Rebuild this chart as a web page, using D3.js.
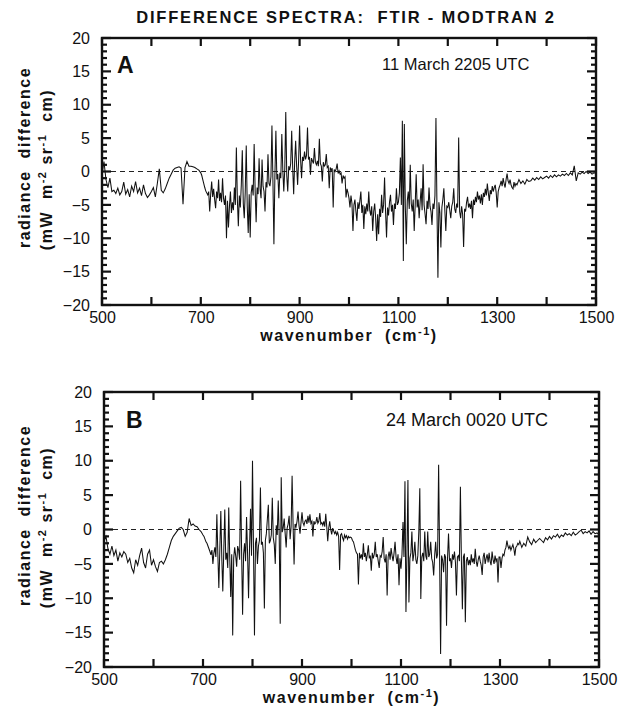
<!DOCTYPE html>
<html>
<head>
<meta charset="utf-8">
<script src="https://cdn.jsdelivr.net/npm/d3@7"></script>
<style>
body { margin: 0; background: #fff; }
text { font-family: "Liberation Sans", Arial, Helvetica, sans-serif; fill: #111; }
</style>
</head>
<body>
<div id="chart"></div>
<script>
// sampling grid of the spectra (cm-1): 4 cm-1 in the quiet parts, 2 cm-1 in the noisy band
var wavenumbers = [].concat(d3.range(500, 700, 4), d3.range(700, 1340, 2), d3.range(1340, 1501, 4));

// panel A: 11 March 2205 UTC, radiance difference
var spectrumA = [].concat(
  // 500-696 (4 cm-1)
  [-0.5, 1.5, -1.2, -2.4, -1.0, -3.0, -2.8, -3.3, -2.5, -3.5, -3.0, -1.6, -3.4, -2.7, -3.8, -2.2, -3.0, -1.5, -3.2, -2.5, -3.6, -2.0, -3.3, -3.9, -3.5],
  [-3.0, -2.4, -3.8, -1.8, 0.4, -2.8, -3.2, -2.6, -1.8, -1.0, -0.4, 0.2, 0.5, 0.6, 0.7, 0.5, -4.9, 0.6, 1.5, 0.8, 0.8, 0.7, 0.6, 0.4, 0.2],
  // 700-798 (2 cm-1)
  [-0.2, -0.6, -1.2, -1.8, -2.4, -2.9, -3.2, -3.5, -3.0, -6.0, -3.4, -1.5, -3.8, -2.6, -4.2, -5.5, -3.0, -4.0, -1.2, -4.4,
   -3.2, -4.6, -1.0, -4.0, -5.0, -3.6, -10.0, -4.4, -8.4, -5.2, -3.0, -6.2, -4.6, -5.8, -2.4, -5.0, 3.6, -4.2, -8.2, -3.6,
   -5.4, -2.0, 3.2, -4.8, -7.0, -3.0, 3.9, -5.2, -9.2, -3.4],
  // 800-898
  [-9.9, -3.2, -2.0, -3.6, 4.1, -2.8, -7.6, -2.4, -3.4, 2.0, -2.6, -4.0, 1.8, -2.2, -3.0, -6.0, -1.6, -2.4, 2.6, -1.8,
   -2.2, -0.8, 6.9, -1.4, -10.9, -0.6, 6.1, -1.2, -0.4, -4.0, -0.2, -1.0, 5.6, 0.2, -3.0, 0.4, 8.9, -0.6, -3.0, 0.8,
   0.2, 1.2, 6.1, 0.6, -3.4, 1.4, 4.6, 0.8, -2.0, 1.6],
  // 900-998
  [6.9, 1.8, -1.0, 2.2, 1.6, 3.0, 1.8, 2.4, 6.6, 1.8, 2.2, -0.5, 2.0, 1.6, 1.2, 3.5, 1.4, 1.0, 1.6, 0.8,
   4.9, 1.2, 0.8, -1.5, 1.4, 0.8, 1.0, 2.6, 0.6, 0.8, -2.5, 0.6, 0.2, 0.5, -5.4, 0.3, 0.0, 0.4, 1.2, -0.3,
   0.1, -0.4, -0.2, -1.8, -0.6, -1.0, -0.8, -3.9, -2.6, -3.2],
  // 1000-1098
  [-4.0, -5.4, -3.6, -4.8, -8.9, -5.0, -4.2, -6.0, -7.4, -4.6, -5.6, -4.4, -3.0, -6.2, -5.0, -8.6, -5.2, -6.4, -4.8, -6.0,
   -3.0, -5.8, -6.6, -5.2, -8.9, -6.0, -4.8, -7.0, -10.4, -6.4, -9.4, -5.6, -6.8, -3.5, -6.2, -5.0, -0.9, -6.0, -9.9, -5.4,
   -6.6, -4.6, -3.5, -6.0, -5.0, -8.0, -4.8, -5.6, -2.5, -5.0],
  // 1100-1198
  [-4.6, -3.2, 2.1, -5.0, 7.6, -13.4, 7.1, -5.2, -10.9, -4.4, -3.0, -5.6, 1.0, -4.8, -6.0, -4.2, -8.9, -5.0, -0.4, -5.4,
   -4.2, -7.0, -4.6, -2.5, -5.8, 1.1, -5.0, -6.4, -7.9, -4.4, -5.6, -2.4, -5.2, -6.0, -8.0, -4.8, -5.6, -3.6, 8.0, -5.0,
   -15.9, -4.6, -6.2, -11.4, -5.4, -4.2, -2.5, -5.8, -8.9, -5.2],
  // 1200-1298
  [-5.4, -4.6, -5.8, -7.0, -5.2, -4.6, -2.5, -5.6, -6.2, -4.8, -5.4, 5.1, -6.0, -7.0, -5.2, -6.4, -11.3, -5.6, -6.0, -4.6,
   -3.8, -5.4, -4.8, -5.6, -4.4, -7.0, -4.2, -5.0, -3.8, -4.6, -3.0, -4.2, -3.6, -4.8, -3.4, -5.0, -3.2, -3.8, -2.6, -3.6,
   -1.8, -3.2, -4.4, -2.8, -3.4, -2.2, -3.0, -2.4, -2.0, -3.2],
  // 1300-1338
  [-5.4, -3.0, -2.4, -2.0, -1.4, -2.2, -1.0, -1.8, -2.4, -1.2, -0.3, -1.4, -1.8, -1.2, -2.0, -2.4, -2.6, -1.6, -2.2, -1.8],
  // 1340-1500 (4 cm-1)
  [-2.0, -1.2, -1.8, -1.4, -1.9, -1.2, -1.5, -1.4, -1.0, -1.3, -0.9, -1.2, -0.8, -1.1, -0.9],
  [-0.7, -1.0, -0.6, -0.9, -0.5, -0.8, -0.5, -0.7, -0.4, -0.6, -0.3, -0.6, -0.2, -0.5, 0.85, -1.4, -0.2, -0.4, -0.1, -0.3, 0.0, -0.3, -0.1, -0.4, -0.2],
  [-0.3]
);

// panel B: 24 March 0020 UTC
var spectrumB = [].concat(
  // 500-696 (4 cm-1)
  [-1.7, -1.0, -2.8, -3.6, -2.4, -3.8, -3.0, -4.6, -3.4, -4.0, -3.2, -3.6, -4.8, -4.2, -5.6, -6.3, -4.4, -5.2, -3.8, -2.7, -4.8, -5.6, -3.6, -3.0, -5.2],
  [-4.4, -5.4, -6.1, -4.8, -4.6, -5.0, -4.4, -3.6, -2.6, -1.6, -1.0, -0.6, -0.2, 0.2, 0.3, 0.0, -1.0, -0.4, 1.6, 0.6, 0.8, 0.5, 0.4, 0.0, -0.3],
  // 700-798 (2 cm-1)
  [-0.8, -1.0, -1.4, -1.8, -2.0, -2.4, -2.8, -3.2, -3.7, -3.0, -5.0, -3.4, -2.6, -4.0, 2.2, -3.6, -8.5, -2.8, 2.7, -4.2,
   -9.0, -3.0, 2.9, -4.4, -3.4, -5.6, 3.2, -4.0, -9.8, -3.6, -15.4, -4.2, -2.6, -3.8, -5.4, -2.4, -3.0, -4.4, 7.1, -3.2,
   -12.4, -3.6, -2.0, -4.6, 1.8, -3.4, -10.0, -2.6, 3.0, -3.8],
  // 800-898
  [10.0, -2.8, -15.4, -2.0, -1.2, -5.0, -2.4, -1.6, 6.1, -2.2, -1.8, -3.4, -11.5, -1.6, -0.6, 1.5, 3.6, -2.0, -1.6, -0.8,
   4.6, -1.2, -2.2, -5.0, 0.6, -0.8, 4.2, -1.0, -13.7, 7.6, -0.4, 0.2, 1.6, -0.6, -2.6, 0.2, 0.8, 2.0, -1.4, 0.4,
   7.8, 0.6, -5.1, 0.8, 0.4, 1.2, 2.6, 0.6, -0.6, 1.0],
  // 900-998
  [2.5, 1.0, 0.6, 1.2, 1.4, 0.8, 2.0, 1.0, 2.2, 0.9, 1.2, -1.0, 1.2, 0.8, 1.0, 1.8, 0.9, 1.2, 2.4, 0.8,
   1.0, 0.6, 1.2, 0.4, 2.3, 0.4, -1.7, 0.2, 1.2, 0.0, -0.7, 0.2, -0.2, -0.6, -0.3, -0.8, -0.4, -1.0, -5.9, -0.8,
   -0.6, -1.2, -1.6, -0.8, -1.2, -0.9, -1.4, -1.0, -1.2, -1.1],
  // 1000-1098
  [-1.2, -1.6, -1.8, -2.4, -3.0, -3.4, -3.6, -8.0, -3.4, -4.2, -3.6, -4.4, -2.0, -4.0, -3.4, -4.6, -3.6, -2.3, -4.2, -3.8,
   -6.0, -3.4, -4.2, -3.6, -1.8, -4.0, -3.6, -4.6, -5.6, -3.8, -4.0, -3.2, -1.1, -4.2, -4.8, -3.6, -9.6, -4.0, -3.2, -4.4,
   -2.7, -3.8, -4.6, -3.4, -1.8, -4.0, -5.0, -3.6, -8.1, -4.2],
  // 1100-1198
  [-5.7, -3.6, 1.1, -4.0, 7.0, -12.0, -3.8, 7.2, -10.6, -4.2, -3.4, -0.3, -4.6, -3.6, -1.8, -4.4, -5.0, -3.8, -0.3, 6.0,
   -10.1, -4.0, -3.4, -4.6, -0.3, -3.8, -4.4, -0.3, -4.0, -3.6, -1.8, -4.2, -4.8, -6.7, -3.8, -1.8, -4.2, -3.6, 9.4, -4.0,
   -18.1, -3.8, -4.4, -6.2, -3.6, -4.0, -14.0, -4.2, -0.6, -4.6],
  // 1200-1298
  [-4.2, -5.6, -3.6, -4.4, -3.2, -4.8, -9.6, -4.0, -3.8, -4.6, 6.2, -4.4, -11.6, -4.0, -3.5, -13.5, -4.6, -4.0, -5.2, -4.4,
   -5.2, -3.6, -4.8, -4.2, -5.0, -2.8, -4.6, -5.4, -4.4, -3.8, -4.6, -5.2, -6.6, -4.0, -3.4, -5.0, -4.2, -3.6, -4.8, -3.4,
   -4.6, -5.2, -3.2, -4.4, -5.0, -3.8, -4.6, -4.2, -7.7, -4.0],
  // 1300-1338
  [-4.0, -5.6, -4.2, -3.6, -3.8, -3.0, -2.6, -1.6, -2.4, -2.8, -2.4, -3.0, -2.6, -2.2, -2.8, -3.8, -2.6, -2.4, -2.0, -2.2],
  // 1340-1500 (4 cm-1)
  [-1.7, -2.6, -2.0, -2.4, -1.1, -1.8, -2.2, -1.4, -1.9, -1.6, -1.3, -1.6, -1.9, -1.2, -1.5],
  [-1.0, -1.4, -0.9, -1.1, -0.7, -1.2, -0.8, -1.0, -0.5, -0.8, -0.6, -0.9, -0.4, -0.8, -0.6, -0.3, -0.1, -0.6, -0.3, -0.5, -0.2, -0.7, -0.3, -0.6, -0.5],
  [-0.8]
);

var xTicks = [500, 700, 900, 1100, 1300, 1500];
var yTicks = [20, 15, 10, 5, 0, -5, -10, -15, -20];
var panelLetters = ["A", "B"];
var panelDates = ["11 March 2205 UTC", "24 March 0020 UTC"];

var svg = d3.select('#chart')
    .append('svg')
    .attr('width', 621)
    .attr('height', 706);

// title
svg.append('text')
    .attr('x', 346)
    .attr('y', 23)
    .attr('text-anchor', 'middle')
    .style('font-size', '16.5px')
    .style('font-weight', 'bold')
    .style('letter-spacing', '1.8px')
    .style('white-space', 'pre')
    .text('DIFFERENCE SPECTRA:  FTIR - MODTRAN 2');

var panels = [
    {values: spectrumA, left: 102, right: 596, top: 38, bottom: 305,
     letterX: 117, letterY: 73, dateX: 382, dateY: 70, dateSize: 16.5},
    {values: spectrumB, left: 104, right: 599, top: 392, bottom: 667,
     letterX: 126, letterY: 428, dateX: 386, dateY: 426, dateSize: 18}
];

panels.forEach(function(p, k) {
    var g = svg.append('g');
    var x = d3.scaleLinear().domain([500, 1500]).range([p.left, p.right]);
    var y = d3.scaleLinear().domain([-20, 20]).range([p.bottom, p.top]);

    // dashed zero line
    g.append('line')
        .attr('x1', x(500)).attr('x2', x(1500))
        .attr('y1', y(0)).attr('y2', y(0))
        .attr('stroke', '#222')
        .attr('stroke-width', 1)
        .attr('stroke-dasharray', '5,4');

    // the spectrum
    var line = d3.line()
        .x(function(d, i) { return x(wavenumbers[i]); })
        .y(function(d) { return y(d); });

    g.append('path')
        .datum(p.values)
        .attr('d', line)
        .attr('fill', 'none')
        .attr('stroke', '#111')
        .attr('stroke-width', 1.05);

    // tick labels through d3 axes
    g.append('g')
        .attr('class', 'axis')
        .attr('transform', 'translate(0,' + p.bottom + ')')
        .call(d3.axisBottom(x).tickValues(xTicks).tickSize(0).tickPadding(7).tickFormat(d3.format('d')));
    g.append('g')
        .attr('class', 'axis')
        .attr('transform', 'translate(' + p.left + ',0)')
        .call(d3.axisLeft(y).tickValues(yTicks).tickSize(0).tickPadding(12).tickFormat(d3.format('d')));

    g.selectAll('.axis .domain').remove();
    g.selectAll('.axis text')
        .style('font-size', '16px')
        .style('font-family', '"Liberation Sans", Arial, sans-serif')
        .attr('fill', '#111');

    // inward tick marks: x every 100 on top and bottom, y every 1 (longer every 5) on both sides
    var marks = [];
    d3.range(500, 1501, 100).forEach(function(v) {
        marks.push({x1: x(v), y1: p.bottom, x2: x(v), y2: p.bottom - 8});
        marks.push({x1: x(v), y1: p.top, x2: x(v), y2: p.top + 8});
    });
    d3.range(-20, 21, 1).forEach(function(v) {
        var len = v % 5 === 0 ? 9 : 5;
        marks.push({x1: p.left, y1: y(v), x2: p.left + len, y2: y(v)});
        marks.push({x1: p.right, y1: y(v), x2: p.right - len, y2: y(v)});
    });
    g.selectAll('line.mark')
        .data(marks)
        .enter().append('line')
        .attr('class', 'mark')
        .attr('x1', function(d) { return d.x1; })
        .attr('y1', function(d) { return d.y1; })
        .attr('x2', function(d) { return d.x2; })
        .attr('y2', function(d) { return d.y2; })
        .attr('stroke', '#111')
        .attr('stroke-width', 2.2);

    // frame
    g.append('rect')
        .attr('x', p.left).attr('y', p.top)
        .attr('width', p.right - p.left).attr('height', p.bottom - p.top)
        .attr('fill', 'none')
        .attr('stroke', '#111')
        .attr('stroke-width', 2.4);

    // panel letter and date
    g.append('text')
        .attr('x', p.letterX).attr('y', p.letterY)
        .style('font-size', '23px')
        .style('font-weight', 'bold')
        .text(panelLetters[k]);
    g.append('text')
        .attr('x', p.dateX).attr('y', p.dateY)
        .style('font-size', p.dateSize + 'px')
        .text(panelDates[k]);

    // x axis title
    var xt = g.append('text')
        .attr('x', (p.left + p.right) / 2)
        .attr('y', p.bottom + 36)
        .attr('text-anchor', 'middle')
        .style('font-size', '16px')
        .style('font-weight', 'bold')
        .style('letter-spacing', '1.5px')
        .style('white-space', 'pre');
    xt.append('tspan').text('wavenumber  (cm');
    xt.append('tspan').attr('dy', -6).style('font-size', '11px').text('-1');
    xt.append('tspan').attr('dy', 6).text(')');

    // y axis title, two lines
    var cy = (p.top + p.bottom) / 2;
    g.append('text')
        .attr('transform', 'translate(30,' + (cy - 14) + ') rotate(-90)')
        .attr('text-anchor', 'middle')
        .style('font-size', '16px')
        .style('font-weight', 'bold')
        .style('letter-spacing', '1.5px')
        .style('white-space', 'pre')
        .text('radiance  difference');
    var yt = g.append('text')
        .attr('transform', 'translate(52,' + (cy - 2) + ') rotate(-90)')
        .attr('text-anchor', 'middle')
        .style('font-size', '16px')
        .style('font-weight', 'bold')
        .style('letter-spacing', '1.5px')
        .style('white-space', 'pre');
    yt.append('tspan').text('(mW  m');
    yt.append('tspan').attr('dy', -6).style('font-size', '11px').text('-2');
    yt.append('tspan').attr('dy', 6).text(' sr');
    yt.append('tspan').attr('dy', -6).style('font-size', '11px').text('-1');
    yt.append('tspan').attr('dy', 6).text('  cm)');
});
</script>
</body>
</html>
